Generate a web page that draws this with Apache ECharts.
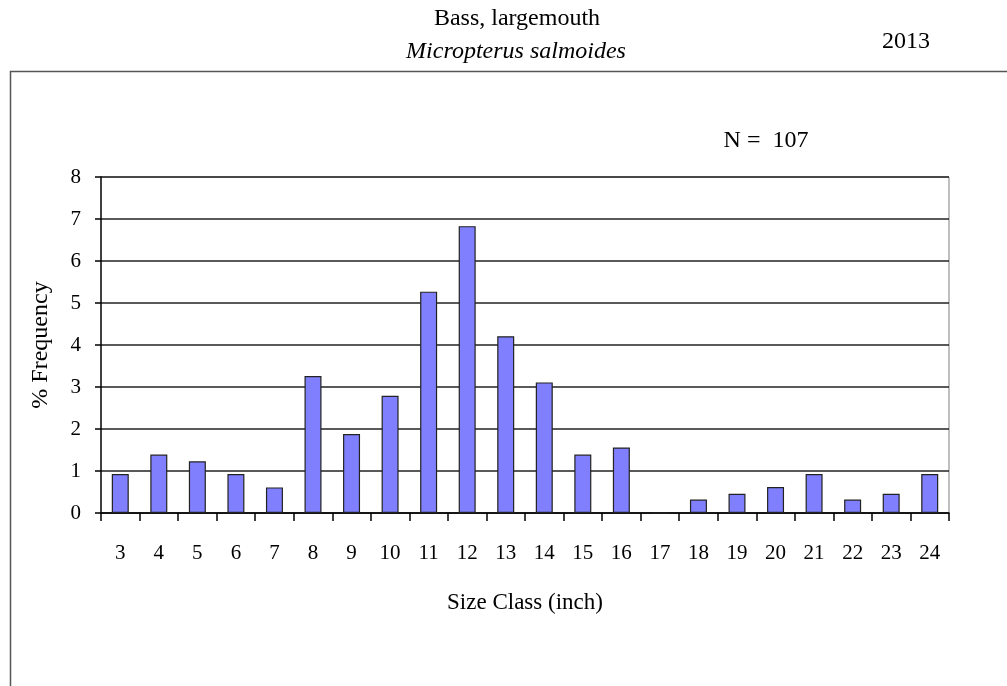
<!DOCTYPE html>
<html><head><meta charset="utf-8">
<script src="https://cdn.jsdelivr.net/npm/echarts@6/dist/echarts.min.js"></script>
<style>html,body{margin:0;padding:0;background:#fff}#c{width:1007px;height:686px}</style>
</head><body><div id="c"></div>
<script>
const categories = ['3','4','5','6','7','8','9','10','11','12','13','14','15','16','17','18','19','20','21','22','23','24'];
const frequency = [0.93,1.39,1.23,0.93,0.61,3.26,1.88,2.79,5.27,6.83,4.21,3.11,1.39,1.56,0,0.32,0.46,0.62,0.93,0.32,0.46,0.93];
const yTicks = [0,8,1];

const chart = echarts.init(document.getElementById('c'));
const font = '"Liberation Serif", "DejaVu Serif", serif';
const t = (size, style) => ({ fontFamily: font, fontSize: size, fontWeight: 'normal', fontStyle: style || 'normal', color: '#000' });
chart.setOption({
  animation: false,
  backgroundColor: '#fff',
  textStyle: { fontFamily: font },
  title: [
    { text: 'Bass, largemouth', left: 512, top: 2, textAlign: 'center', textStyle: t(24) },
    { text: 'Micropterus salmoides', left: 511, top: 35, textAlign: 'center', textStyle: t(24, 'italic') },
    { text: '2013', left: 901, top: 25, textAlign: 'center', textStyle: t(24) },
    { text: 'N =  107', left: 761, top: 124, textAlign: 'center', textStyle: t(24) }
  ],
  graphic: [
    { type: 'rect', shape: { x: 10.5, y: 71.5, width: 1010, height: 700 }, style: { fill: 'none', stroke: '#555', lineWidth: 1.5 }, z: -1 },
    { type: 'line', shape: { x1: 101, y1: 177, x2: 949, y2: 177 }, style: { stroke: '#aaa', lineWidth: 1.5 } },
    { type: 'line', shape: { x1: 949, y1: 177, x2: 949, y2: 513 }, style: { stroke: '#aaa', lineWidth: 1.5 } }
  ],
  grid: { left: 101, right: 58, top: 177, bottom: 173, containLabel: false },
  xAxis: {
    type: 'category', data: categories,
    name: 'Size Class (inch)', nameLocation: 'middle', nameGap: 78,
    nameTextStyle: t(23),
    axisLine: { lineStyle: { color: '#000', width: 1.5 } },
    axisTick: { show: true, inside: false, length: 8, alignWithLabel: false, lineStyle: { color: '#000', width: 1.5 } },
    axisLabel: { fontFamily: font, fontSize: 21, color: '#000', margin: 30, interval: 0 }
  },
  yAxis: {
    type: 'value', min: yTicks[0], max: yTicks[1], interval: yTicks[2],
    name: '% Frequency', nameLocation: 'middle', nameGap: 48, nameRotate: 90,
    nameTextStyle: t(24),
    axisLine: { show: true, lineStyle: { color: '#000', width: 1.5 } },
    axisTick: { show: true, inside: false, length: 6, lineStyle: { color: '#000', width: 1.5 } },
    axisLabel: { fontFamily: font, fontSize: 21, color: '#000', margin: 20 },
    splitLine: { show: true, lineStyle: { color: '#222', width: 1.5 } }
  },
  series: [{
    type: 'bar', data: frequency, barWidth: 17,
    itemStyle: { color: '#8080FF', borderColor: '#222', borderWidth: 1.2 }
  }]
});
</script></body></html>
